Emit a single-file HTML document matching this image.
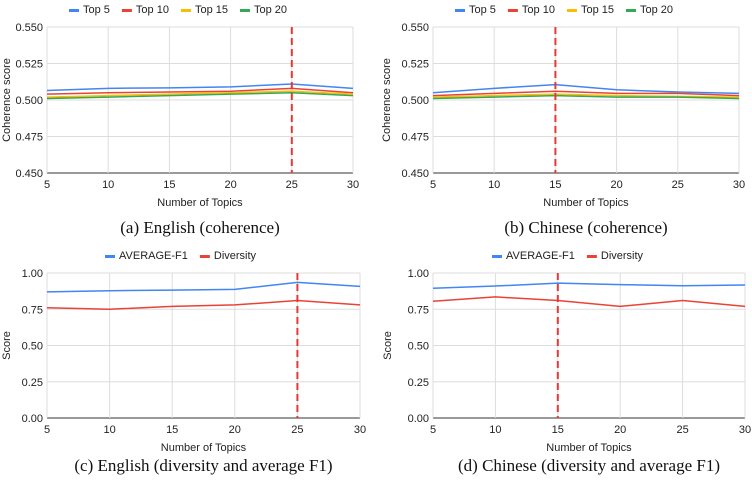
<!DOCTYPE html>
<html><head><meta charset="utf-8">
<style>
body{margin:0;background:#fff;width:752px;height:480px;overflow:hidden}
svg{display:block}
text{font-family:"Liberation Sans",sans-serif;fill:#222}
.cap{font-family:"Liberation Serif",serif;font-size:17px;fill:#111}
</style></head><body>
<svg id="s" width="752" height="480"></svg>
<script>
const xCats=[5,10,15,20,25,30];
const cohTicks=[0.450,0.475,0.500,0.525,0.550];
const scoreTicks=[0,0.25,0.5,0.75,1.0];
const cohNames=["Top 5","Top 10","Top 15","Top 20"];
const divNames=["AVERAGE-F1","Diversity"];
const aTop5=[0.5065,0.508,0.5083,0.509,0.511,0.508];
const aTop10=[0.504,0.505,0.5055,0.506,0.508,0.505];
const aTop15=[0.502,0.503,0.504,0.505,0.506,0.504];
const aTop20=[0.501,0.502,0.503,0.504,0.505,0.503];
const bTop5=[0.505,0.508,0.5105,0.507,0.5055,0.5045];
const bTop10=[0.503,0.5045,0.506,0.5045,0.5045,0.503];
const bTop15=[0.502,0.503,0.504,0.503,0.5025,0.502];
const bTop20=[0.501,0.502,0.503,0.502,0.502,0.501];
const cF1=[0.87,0.878,0.882,0.887,0.935,0.908];
const cDiv=[0.76,0.75,0.77,0.78,0.81,0.78];
const dF1=[0.895,0.91,0.93,0.92,0.912,0.917];
const dDiv=[0.805,0.835,0.81,0.77,0.81,0.77];
const colors=["#4285f4","#ea4335","#fbbc04","#34a853"];
const NS="http://www.w3.org/2000/svg";
const svg=document.getElementById('s');
function el(t,a,p){const e=document.createElementNS(NS,t);for(const k in a)e.setAttribute(k,a[k]);(p||svg).appendChild(e);return e;}
function chart(o){
  const g=el('g',{});
  
  
  const xs=v=>o.x0+(v-5)/25*(o.x1-o.x0);
  const ys=v=>o.y1-(v-o.tk[0])/(o.tk[o.tk.length-1]-o.tk[0])*(o.y1-o.y0);
  o.tk.forEach(t=>{const l=el('line',{x1:o.x0,x2:o.x1,y1:ys(t),y2:ys(t),stroke:t===o.tk[0]?'#333':'#ddd','stroke-width':1},g);
    
    const tx=el('text',{x:o.x0-4,y:ys(t)+4,'text-anchor':'end','font-size':11},g);tx.textContent=t.toFixed(o.dec);
    });
  xCats.forEach(c=>{const l=el('line',{x1:xs(c),x2:xs(c),y1:o.y0,y2:o.y1,stroke:'#ddd'},g);
    
    const tx=el('text',{x:xs(c),y:o.y1+15,'text-anchor':'middle','font-size':11},g);tx.textContent=c;
    });
  o.series.forEach((s,i)=>{const p=el('polyline',{points:s.map((v,j)=>xs(xCats[j])+','+ys(v)).join(' '),fill:'none',stroke:colors[i],'stroke-width':1.5},g);
    });
  const v=el('line',{x1:xs(o.mark),x2:xs(o.mark),y1:o.y0,y2:o.y1,stroke:'#e53935','stroke-width':2,'stroke-dasharray':'7,4'},g);
  
  let lx=o.lx;
  o.names.forEach((n,i)=>{const r=el('rect',{x:lx,y:o.ly-4,width:10,height:3,fill:colors[i]},g);
    
    const t=el('text',{x:lx+14,y:o.ly,'font-size':11},g);t.textContent=n;
    
    lx+=14+t.getComputedTextLength()+12;});
  const xt=el('text',{x:(o.x0+o.x1)/2,y:o.y1+33,'text-anchor':'middle','font-size':11},g);xt.textContent='Number of Topics';
  
  const yc=(o.y0+o.y1)/2;
  const yt=el('text',{x:o.ytx,y:yc,'text-anchor':'middle','font-size':11,transform:'rotate(-90 '+o.ytx+' '+yc+')'},g);yt.textContent=o.ytitle;
  
  const cp=el('text',{x:(o.x0+o.x1)/2,y:o.capy,'text-anchor':'middle',class:'cap'},g);cp.textContent=o.cap;
  
}
chart({name:'chart-english-coherence',x0:47,x1:353,y0:27,y1:173,tk:cohTicks,dec:3,series:[aTop5,aTop10,aTop15,aTop20],names:cohNames,mark:25,lx:69,ly:13,ytx:10,ytitle:'Coherence score',cap:'(a) English (coherence)',capy:233});
chart({name:'chart-chinese-coherence',x0:433,x1:739,y0:27,y1:173,tk:cohTicks,dec:3,series:[bTop5,bTop10,bTop15,bTop20],names:cohNames,mark:15,lx:455,ly:13,ytx:390,ytitle:'Coherence score',cap:'(b) Chinese (coherence)',capy:233});
chart({name:'chart-english-diversity-f1',x0:47,x1:360,y0:273,y1:418,tk:scoreTicks,dec:2,series:[cF1,cDiv],names:divNames,mark:25,lx:105,ly:259,ytx:10,ytitle:'Score',cap:'(c) English (diversity and average F1)',capy:471});
chart({name:'chart-chinese-diversity-f1',x0:433,x1:745,y0:273,y1:418,tk:scoreTicks,dec:2,series:[dF1,dDiv],names:divNames,mark:15,lx:492,ly:259,ytx:391,ytitle:'Score',cap:'(d) Chinese (diversity and average F1)',capy:471});
</script>
</body></html>
